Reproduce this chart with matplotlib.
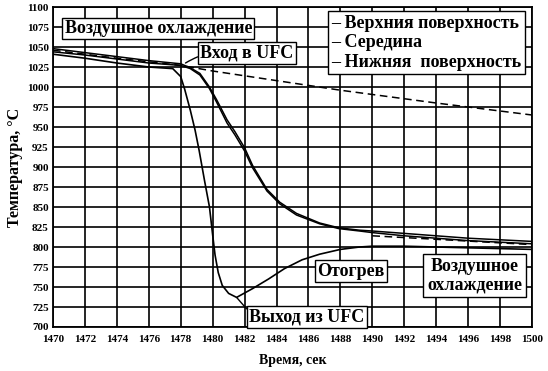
import matplotlib
matplotlib.use("Agg")
import matplotlib.pyplot as plt

plt.rcParams['font.family'] = ['Liberation Serif', 'DejaVu Serif']
plt.rcParams['font.weight'] = 'bold'

# upper surface (fast cooling, then reheat)
t_top = [1470, 1472, 1474, 1476, 1477.5, 1478.0, 1478.25, 1478.6, 1478.9, 1479.15,
         1479.5, 1479.8, 1480.0, 1480.15, 1480.35, 1480.6, 1481.0, 1481.5, 1482.5, 1483.5,
         1484.5, 1485.6, 1486.7, 1488.0, 1489.2, 1490, 1492, 1494, 1496, 1498, 1500]
temp_top = [1041, 1036, 1030, 1025, 1023, 1013, 997, 971, 946, 921,
            882, 850, 815, 790, 768, 752, 742, 737, 748, 760,
            773, 784, 791, 797, 800, 801, 801, 800, 799, 798, 797]

# middle and lower surface
t_mid = [1470, 1472, 1474, 1476, 1478, 1478.6, 1479.2, 1479.8, 1480.25, 1480.9,
         1481.4, 1482.0, 1482.5, 1483.4, 1484.2, 1485.25, 1486.7, 1487.9, 1489.2,
         1490, 1492, 1494, 1496, 1498, 1500]
temp_mid = [1048, 1043, 1038, 1033, 1029, 1024, 1017, 1000, 984, 959,
            944, 924, 902, 872, 856, 842, 830, 824, 821,
            820, 817, 814, 811, 809, 807]
temp_bot = [1044, 1040, 1035, 1030, 1027, 1023, 1015, 998, 981, 955,
            940, 920, 899, 870, 854, 840, 829, 823, 820,
            818, 814, 811, 808, 806, 804]

# air cooling only
t_air = [1470, 1474, 1478, 1480, 1482, 1484, 1488, 1494, 1500]
temp_air = [1046, 1036, 1027, 1020, 1014, 1008, 996, 980, 965]
t_air2 = [1490, 1500]
temp_air2 = [814, 803]

legend_lines = ['– Верхния поверхность', '– Середина', '– Нижняя  поверхность']

fig = plt.figure(figsize=(5.48, 3.71), dpi=100)
ax = fig.add_axes([0.0967, 0.1186, 0.8741, 0.8625])

ax.plot(t_top, temp_top, color='black', lw=1.2)
ax.plot(t_mid, temp_mid, color='black', lw=1.1)
ax.plot(t_mid, temp_bot, color='black', lw=1.1)
ax.plot(t_air, temp_air, color='black', lw=1.1, ls=(0, (5, 3)))
ax.plot(t_air2, temp_air2, color='black', lw=1.1, ls=(0, (5, 3)))

ax.set_xlim(1470, 1500)
ax.set_ylim(700, 1100)
ax.set_xticks(range(1470, 1501, 2))
ax.set_yticks(range(700, 1101, 25))
ax.grid(True, color='black', lw=1.2)
ax.tick_params(length=0, labelsize=8)
ax.tick_params(axis='y', pad=3)
ax.tick_params(axis='x', pad=6)
for lab in ax.get_xticklabels() + ax.get_yticklabels():
    lab.set_fontweight('bold')
for s in ax.spines.values():
    s.set_linewidth(1.3)

ax.set_xlabel('Время, сек', fontsize=10, fontweight='bold', labelpad=7)
ax.set_ylabel('Температура, °С', fontsize=11.5, fontweight='bold', labelpad=3)

box = dict(boxstyle='square,pad=0.12', fc='white', ec='black', lw=1.0)
fs = 13

ax.text(1476.6, 1073, 'Воздушное охлаждение', fontsize=fs, ha='center', va='center',
        bbox=box, zorder=5)
ax.annotate('Вход в UFC', xy=(1478.3, 1030), xytext=(1482.15, 1042.5),
            fontsize=fs, ha='center', va='center', bbox=box, zorder=5,
            arrowprops=dict(arrowstyle='-', color='black', lw=1.0,
                            connectionstyle='arc3,rad=0.2', shrinkA=0, shrinkB=0))
ax.text(1487.45, 1090.5, '\n'.join(legend_lines), fontsize=fs, ha='left', va='top',
        linespacing=1.2, bbox=dict(boxstyle='square,pad=0.2', fc='white', ec='black', lw=1.0),
        zorder=5)
ax.text(1488.66, 770, 'Отогрев', fontsize=fs, ha='center', va='center', bbox=box, zorder=5)
ax.text(1496.4, 764.4, 'Воздушное\nохлаждение', fontsize=fs, ha='center', va='center',
        linespacing=1.15, bbox=dict(boxstyle='square,pad=0.2', fc='white', ec='black', lw=1.0),
        zorder=5)
ax.annotate('Выход из UFC', xy=(1481.5, 737), xytext=(1485.9, 712.5),
            fontsize=fs, ha='center', va='center', bbox=box, zorder=5,
            arrowprops=dict(arrowstyle='-', color='black', lw=1.0, shrinkA=0, shrinkB=0,
                            relpos=(0, 0.8)))

fig.savefig('out.png', dpi=100)
